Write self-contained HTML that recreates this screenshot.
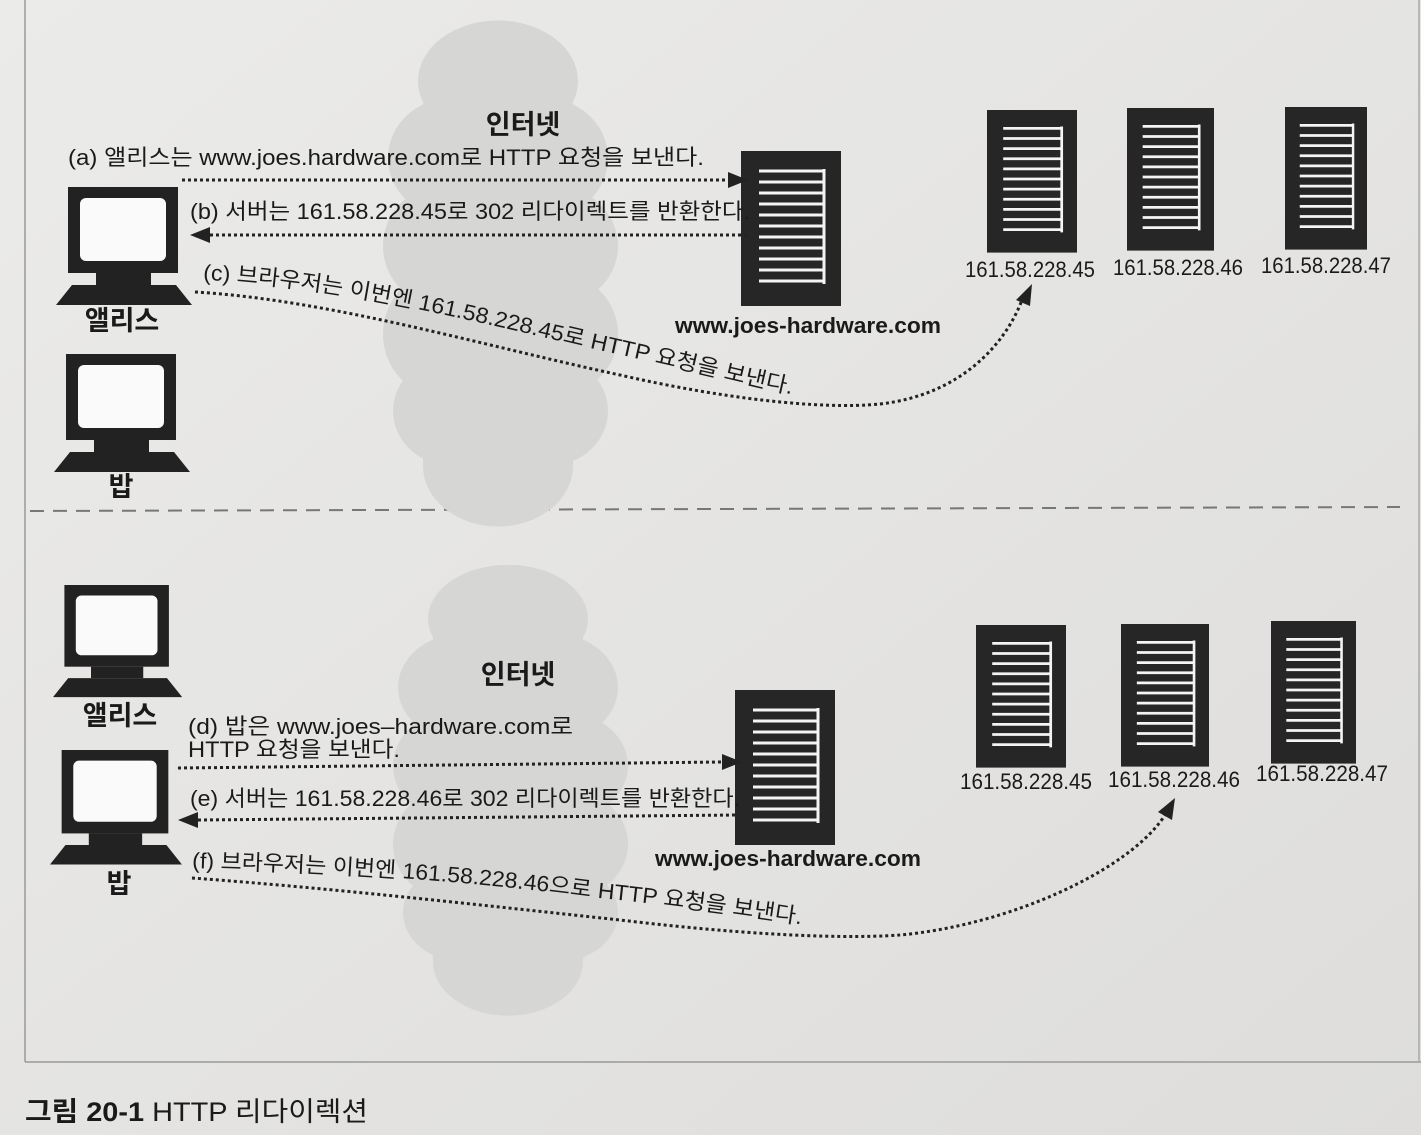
<!DOCTYPE html>
<html><head><meta charset="utf-8"><style>
html,body{margin:0;padding:0;background:#e6e6e3;}
svg{display:block}
text{font-family:"Liberation Sans","Noto Sans CJK KR",sans-serif;fill:#1a1a1a}
</style></head><body>
<svg width="1421" height="1135" viewBox="0 0 1421 1135" xmlns="http://www.w3.org/2000/svg">
<defs>
<linearGradient id="bg" x1="0" y1="0" x2="1" y2="1">
<stop offset="0" stop-color="#ebebe9"/><stop offset="1" stop-color="#dedddb"/></linearGradient>
<g id="pc">
<rect x="12" y="0" width="110" height="86" fill="#222"/>
<rect x="24" y="11" width="86" height="63" rx="6" fill="#fafafa"/>
<rect x="40" y="86" width="55" height="12" fill="#222"/>
<polygon points="0,118 16,98 120,98 136,118" fill="#222"/>
</g>
<g id="srv">
<rect x="0" y="0" width="100" height="155" fill="#262626"/>
<g stroke="#f4f4f4" stroke-width="3">
<line x1="18" y1="20" x2="82" y2="20"/><line x1="18" y1="31" x2="82" y2="31"/><line x1="18" y1="42" x2="82" y2="42"/><line x1="18" y1="53" x2="82" y2="53"/><line x1="18" y1="64" x2="82" y2="64"/><line x1="18" y1="75" x2="82" y2="75"/><line x1="18" y1="86" x2="82" y2="86"/><line x1="18" y1="97" x2="82" y2="97"/><line x1="18" y1="108" x2="82" y2="108"/><line x1="18" y1="119" x2="82" y2="119"/><line x1="18" y1="130" x2="82" y2="130"/>
<line x1="83" y1="18" x2="83" y2="133"/>
</g>
</g>
<g id="cloud" fill="#d6d6d5">
<ellipse cx="115" cy="60" rx="80" ry="55"/>
<ellipse cx="70" cy="130" rx="65" ry="55"/><ellipse cx="160" cy="130" rx="65" ry="55"/>
<ellipse cx="60" cy="210" rx="60" ry="55"/><ellipse cx="170" cy="210" rx="65" ry="55"/>
<ellipse cx="55" cy="290" rx="55" ry="55"/><ellipse cx="175" cy="290" rx="60" ry="55"/>
<ellipse cx="70" cy="360" rx="60" ry="50"/><ellipse cx="165" cy="360" rx="60" ry="50"/>
<ellipse cx="115" cy="410" rx="75" ry="55"/>
<rect x="40" y="60" width="150" height="350"/>
</g>
</defs>
<rect width="1421" height="1135" fill="url(#bg)"/>
<line x1="25" y1="0" x2="25" y2="1062" stroke="#999" stroke-width="1.5"/>
<line x1="25" y1="1062" x2="1421" y2="1062" stroke="#999" stroke-width="1.5"/>
<line x1="1419" y1="0" x2="1419" y2="1062" stroke="#aaa" stroke-width="1.5"/>
<line x1="30" y1="511" x2="1400" y2="507" stroke="#777" stroke-width="2" stroke-dasharray="14 9"/>

<!-- top -->
<use href="#cloud" transform="translate(383,15) scale(1.0,1.1)"/>
<text x="523" y="134" font-size="27" font-weight="bold" text-anchor="middle">인터넷</text>
<use href="#pc" transform="translate(56,187)"/>
<text x="122" y="330" font-size="27" font-weight="bold" text-anchor="middle">앨리스</text>
<use href="#pc" transform="translate(54,354)"/>
<text x="121" y="496" font-size="27" font-weight="bold" text-anchor="middle">밥</text>
<use href="#srv" transform="translate(741,151)"/>
<text x="808" y="333" font-size="22" font-weight="bold" text-anchor="middle" textLength="266" lengthAdjust="spacingAndGlyphs">www.joes-hardware.com</text>
<use href="#srv" transform="translate(987,110) scale(0.9,0.92)"/>
<use href="#srv" transform="translate(1127,108) scale(0.87,0.92)"/>
<use href="#srv" transform="translate(1285,107) scale(0.82,0.92)"/>
<text x="1030" y="277" font-size="22" text-anchor="middle" textLength="130" lengthAdjust="spacingAndGlyphs">161.58.228.45</text>
<text x="1178" y="275" font-size="22" text-anchor="middle" textLength="130" lengthAdjust="spacingAndGlyphs">161.58.228.46</text>
<text x="1326" y="273" font-size="22" text-anchor="middle" textLength="130" lengthAdjust="spacingAndGlyphs">161.58.228.47</text>

<text x="68" y="165" font-size="22" textLength="636" lengthAdjust="spacingAndGlyphs">(a) 앨리스는 www.joes.hardware.com로 HTTP 요청을 보낸다.</text>
<line x1="182" y1="180" x2="728" y2="180" stroke="#222" stroke-width="3" stroke-dasharray="3 3"/>
<polygon points="748,180 728,172 728,188" fill="#222"/>
<text x="190" y="219" font-size="22" textLength="560" lengthAdjust="spacingAndGlyphs">(b) 서버는 161.58.228.45로 302 리다이렉트를 반환한다.</text>
<line x1="210" y1="235" x2="748" y2="235" stroke="#222" stroke-width="3" stroke-dasharray="3 3"/>
<polygon points="190,235 210,227 210,243" fill="#222"/>
<path id="pc1" d="M203,280 C330,285 460,318 590,348 C690,370 760,388 800,396" fill="none"/>
<text font-size="22"><textPath href="#pc1" textLength="600" lengthAdjust="spacingAndGlyphs">(c) 브라우저는 이번엔 161.58.228.45로 HTTP 요청을 보낸다.</textPath></text>
<path d="M195,292 C330,300 480,345 620,375 C720,398 820,410 880,404 C960,395 1005,345 1022,300" fill="none" stroke="#222" stroke-width="3" stroke-dasharray="3 3"/>
<polygon points="1032,284 1016,300 1030,306" fill="#222"/>

<!-- bottom -->
<use href="#cloud" transform="translate(393,560) scale(1.0,0.98)"/>
<text x="518" y="684" font-size="27" font-weight="bold" text-anchor="middle">인터넷</text>
<use href="#pc" transform="translate(53,585) scale(0.95,0.95)"/>
<text x="120" y="725" font-size="27" font-weight="bold" text-anchor="middle">앨리스</text>
<use href="#pc" transform="translate(50,750) scale(0.97,0.97)"/>
<text x="119" y="893" font-size="27" font-weight="bold" text-anchor="middle">밥</text>
<use href="#srv" transform="translate(735,690)"/>
<text x="788" y="866" font-size="22" font-weight="bold" text-anchor="middle" textLength="266" lengthAdjust="spacingAndGlyphs">www.joes-hardware.com</text>
<use href="#srv" transform="translate(976,625) scale(0.9,0.92)"/>
<use href="#srv" transform="translate(1121,624) scale(0.88,0.92)"/>
<use href="#srv" transform="translate(1271,621) scale(0.85,0.92)"/>
<text x="1026" y="789" font-size="22" text-anchor="middle" textLength="132" lengthAdjust="spacingAndGlyphs">161.58.228.45</text>
<text x="1174" y="787" font-size="22" text-anchor="middle" textLength="132" lengthAdjust="spacingAndGlyphs">161.58.228.46</text>
<text x="1322" y="781" font-size="22" text-anchor="middle" textLength="132" lengthAdjust="spacingAndGlyphs">161.58.228.47</text>

<text x="188" y="734" font-size="22" textLength="385" lengthAdjust="spacingAndGlyphs">(d) 밥은 www.joes–hardware.com로</text>
<text x="188" y="757" font-size="22" textLength="212" lengthAdjust="spacingAndGlyphs">HTTP 요청을 보낸다.</text>
<line x1="178" y1="768" x2="722" y2="762" stroke="#222" stroke-width="3" stroke-dasharray="3 3"/>
<polygon points="742,762 722,754 722,770" fill="#222"/>
<text x="190" y="806" font-size="22" textLength="550" lengthAdjust="spacingAndGlyphs">(e) 서버는 161.58.228.46로 302 리다이렉트를 반환한다.</text>
<line x1="198" y1="820" x2="738" y2="815" stroke="#222" stroke-width="3" stroke-dasharray="3 3"/>
<polygon points="178,820 198,812 198,828" fill="#222"/>
<path id="pc2" d="M192,868 C330,872 460,880 590,897 C690,907 760,918 805,925" fill="none"/>
<text font-size="22"><textPath href="#pc2" textLength="612" lengthAdjust="spacingAndGlyphs">(f) 브라우저는 이번엔 161.58.228.46으로 HTTP 요청을 보낸다.</textPath></text>
<path d="M192,878 C330,888 480,905 620,920 C720,932 830,940 900,935 C1010,925 1130,870 1165,815" fill="none" stroke="#222" stroke-width="3" stroke-dasharray="3 3"/>
<polygon points="1175,798 1158,812 1172,820" fill="#222"/>

<text x="25" y="1121" font-size="27" textLength="343" lengthAdjust="spacingAndGlyphs"><tspan font-weight="bold">그림 20-1</tspan> HTTP 리다이렉션</text>
</svg>
</body></html>
